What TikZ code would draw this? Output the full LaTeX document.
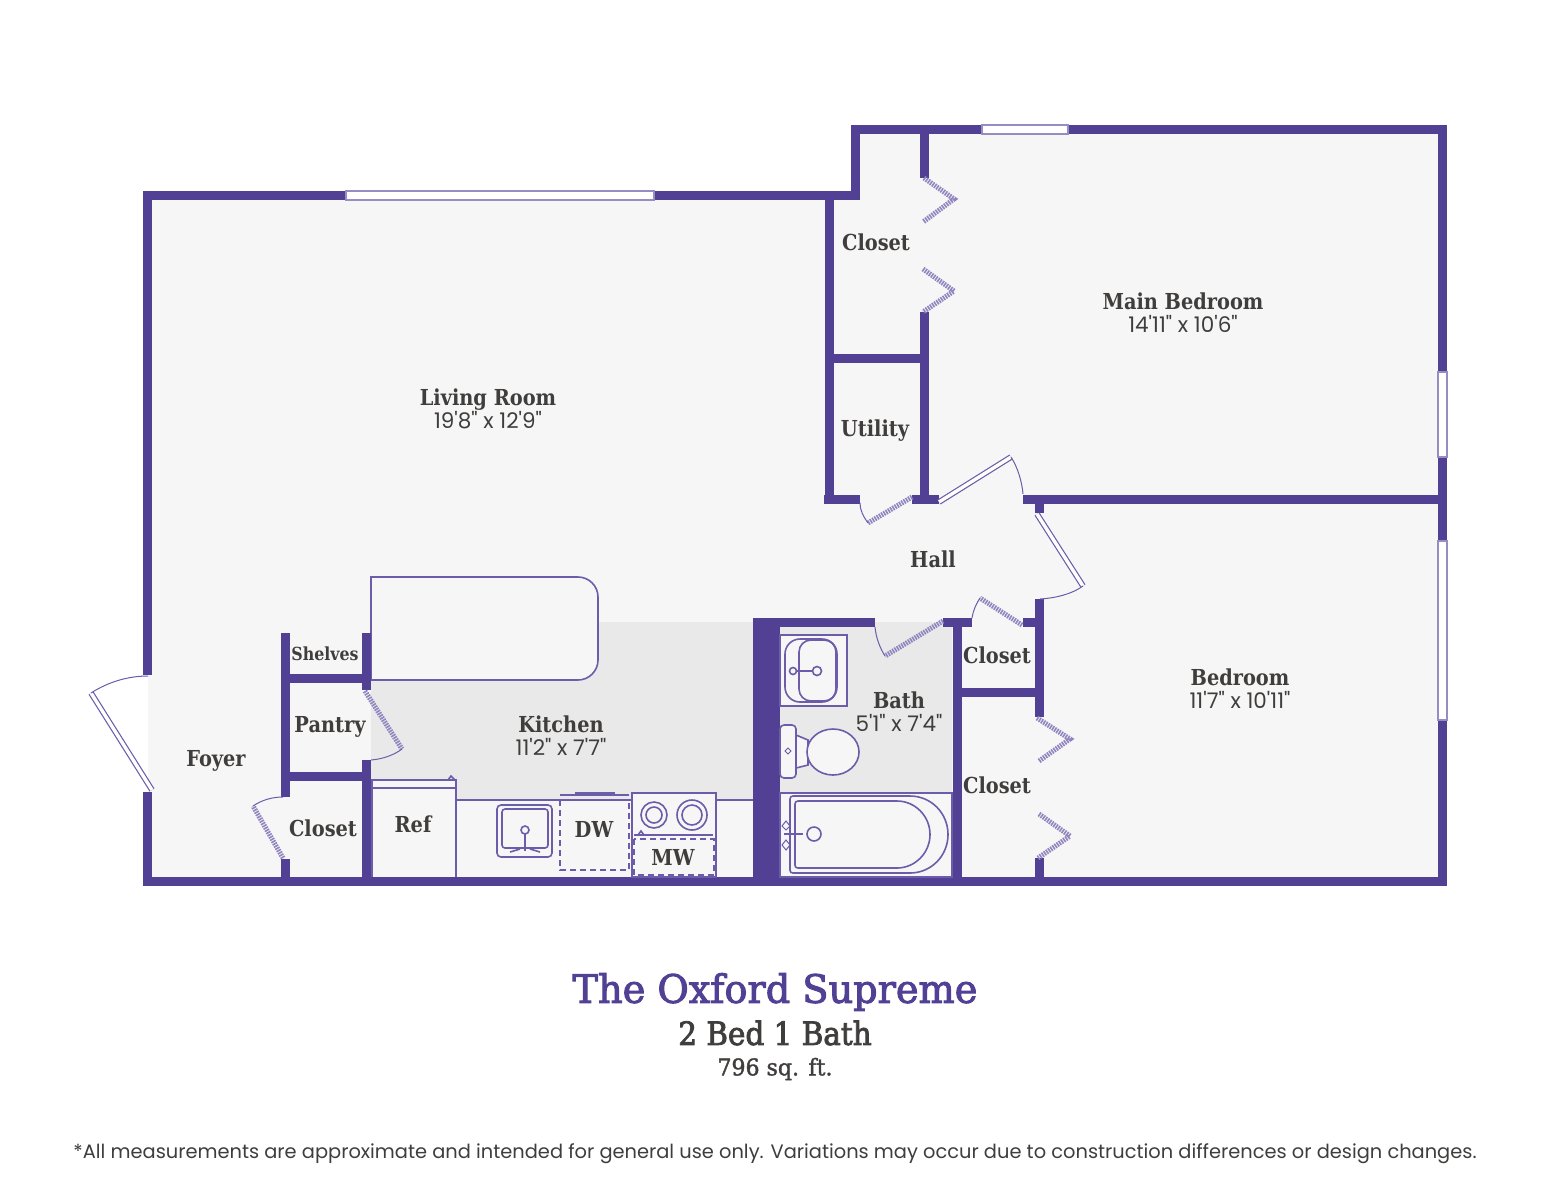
\documentclass[tikz,border=0pt]{standalone}
\usepackage{fontspec}
\usetikzlibrary{positioning}
\setmainfont{DejaVu Serif}
\newfontfamily\slabfont[FakeStretch=0.88]{DejaVu Serif}
\newfontfamily\titlefont[FakeStretch=0.98,FakeBold=2.5]{DejaVu Serif}
\newfontfamily\subfont[FakeStretch=0.92,FakeBold=2.5]{DejaVu Serif}
\newfontfamily\areafont[FakeStretch=0.96,FakeBold=1.5]{DejaVu Serif}
\newfontfamily\plainfont{Poppins}
\definecolor{myplum}{RGB}{82,64,148}
\definecolor{mythin}{RGB}{108,92,170}
\definecolor{myfloor}{RGB}{246,246,246}
\definecolor{mygrey}{RGB}{233,233,233}
\definecolor{myink}{RGB}{64,62,60}

\begin{document}
\begin{tikzpicture}[x=1pt,y=-1pt,
	wall/.style={draw=myplum,line width=9pt},
	thinline/.style={draw=mythin,line width=1.6pt},
	fixture/.style={draw=mythin,line width=1.6pt,fill=myfloor},
	swing/.style={draw=mythin,line width=1pt},
	paneldoor/.style={draw=mythin,double=white,double distance=3.4pt,line width=1.2pt},
	hatchdoor/.style={draw=mythin!75,line width=5pt,dash pattern=on 1.6pt off 1pt},
	windowpane/.style={draw=mythin!70,line width=1.2pt,fill=white},
	dashbox/.style={draw=mythin,line width=1.8pt,dash pattern=on 6pt off 4pt},
	roomname/.style={font=\slabfont\bfseries\fontsize{22}{24}\selectfont,text=myink,inner sep=0pt,text height=16.2pt,text depth=0pt},
	roomsize/.style={font=\plainfont\fontsize{21.5}{24}\selectfont,text=myink,inner sep=0pt,text height=15.6pt,text depth=0pt},
	]
	\useasboundingbox (0,0) rectangle (1552,1200);
	\fill[white] (0,0) rectangle (1552,1200);

	% the floor
	\fill[myfloor] (148,195) -- (855,195) -- (855,130) -- (1442,130) -- (1442,881) -- (148,881) -- cycle;
	\fill[mygrey] (371,622) rectangle (753,800);
	\fill[mygrey] (780,622) rectangle (952,793);

	% the kitchen island
	\draw[fixture] (371,680) -- (371,577) -- (578,577) .. controls (589,577) and (598,586) .. (598,597) -- (598,660) .. controls (598,671) and (589,680) .. (578,680) -- cycle;

	% the outer walls
	\draw[wall] (147.5,675) -- (147.5,195.5) -- (855.5,195.5) -- (855.5,129.5) -- (1442.5,129.5) -- (1442.5,881.5) -- (147.5,881.5) -- (147.5,792);

	% the inner walls
	\foreach \xa/\ya/\xb/\yb in {
		829/195/829/499, 824/499/860/499,
		924/129/924/178, 924/312/924/499, 829/358/924/358, 912/499/939/499,
		1023/499/1442/499, 1039/504/1039/513,
		1039/599/1039/717, 1039/858/1039/881, 1023/622/1039/622, 957/692/1039/692,
		753/622/875/622, 943/622/972/622, 957/622/957/881,
		285/633/285/797, 285/859/285/881, 285/678/366/678, 285/776/366/776,
		366/633/366/690, 366/760/366/881}
	\draw[wall] (\xa,\ya) -- (\xb,\yb);
	\draw[wall,line width=27pt] (766.5,618) -- (766.5,881);

	% the windows
	\draw[windowpane] (346,191) rectangle (654,200);
	\draw[windowpane] (982,125) rectangle (1068,134);
	\draw[windowpane] (1438,372) rectangle (1447,457);
	\draw[windowpane] (1438,541) rectangle (1447,720);

	% the doors
	\draw[paneldoor] (152,790) -- (91,693);
	\draw[swing] (91,693) .. controls (108,682) and (128,676) .. (148,676);
	\draw[paneldoor] (939,502) -- (1011,457);
	\draw[swing] (1011,457) .. controls (1018,468) and (1022,482) .. (1023,494);
	\draw[paneldoor] (1037,514) -- (1083,586);
	\draw[swing] (1083,586) .. controls (1072,594) and (1056,598) .. (1040,599);
	\draw[hatchdoor] (365,691) -- (402,749);
	\draw[swing] (402,749) .. controls (394,755) and (383,759) .. (371,760);
	\draw[hatchdoor] (283,858) -- (253,806);
	\draw[swing] (253,806) .. controls (262,800) and (272,797) .. (283,797);
	\draw[hatchdoor] (912,497) -- (868,523);
	\draw[swing] (868,523) .. controls (863,516) and (860,510) .. (860,503);
	\draw[hatchdoor] (1022,625) -- (980,598);
	\draw[swing] (980,598) .. controls (976,604) and (973,611) .. (972,618);
	\draw[hatchdoor] (943,621) -- (885,656);
	\draw[swing] (885,656) .. controls (880,648) and (876,638) .. (875,627);

	% the closet doors
	\draw[hatchdoor] (924,178) -- (954,199) -- (923,222);
	\draw[hatchdoor] (923,269) -- (954,291) -- (923,312);
	\draw[hatchdoor] (1037,718) -- (1070,739) -- (1039,761);
	\draw[hatchdoor] (1039,814) -- (1070,836) -- (1038,858);

	% the kitchen counter and appliances
	\draw[thinline] (457,800) -- (753,800);
	\draw[fixture] (372,877) -- (372,780) -- (456,780) -- (456,877);
	\draw[thinline] (372,788) -- (456,788);
	\draw[thinline] (448,780) -- (451,776) -- (455,780);
	\draw[thinline,rounded corners=4pt] (497,805) rectangle (552,857);
	\draw[thinline,rounded corners=3pt] (502,809) rectangle (548,848);
	\draw[thinline] (525,830) circle (4);
	\draw[thinline] (525,834) -- (525,851);
	\draw[thinline] (510,852) -- (520,849) (530,849) -- (540,852);
	\draw[thinline] (560,795) -- (629,795);
	\draw[thinline] (575,793) -- (615,793);
	\draw[dashbox] (560,800) rectangle (629,870);
	\draw[fixture] (632,793) rectangle (716,877);
	\foreach \cx/\ra/\rb in {654/13/8, 692/15/10} {
		\draw[thinline] (\cx,815) circle (\ra);
		\draw[thinline] (\cx,815) circle (\rb);
	}
	\draw[thinline] (634,835) -- (713,835);
	\draw[thinline] (638,835) -- (641,831) -- (644,835);
	\draw[dashbox] (634,839) rectangle (714,875);

	% the bath fixtures
	\draw[fixture] (780,635) rectangle (847,706);
	\draw[thinline,rounded corners=15pt] (785,639) rectangle (837,702);
	\draw[thinline,rounded corners=12pt] (799,640) -- (799,701) -- (836,701) -- (836,640) -- cycle;
	\draw[thinline] (817,671) circle (4.5);
	\draw[thinline] (797,671) -- (812,671);
	\draw[thinline] (793,671) circle (3.5);
	\draw[fixture] (796,735) -- (808,740) -- (808,765) -- (796,768) -- cycle;
	\draw[fixture] (833,752) ellipse (26 and 23);
	\draw[fixture,rounded corners=4pt] (780,725) rectangle (796,778);
	\draw[thinline,line width=1pt] (788,748) -- (791,751) -- (788,754) -- (785,751) -- cycle;
	\draw[fixture] (780,793) rectangle (952,877);
	\draw[thinline] (790,799) .. controls (790,797) and (791,796) .. (793,796) -- (910,796) .. controls (931,796) and (948,813) .. (948,834.5) .. controls (948,856) and (931,873) .. (910,873) -- (793,873) .. controls (791,873) and (790,872) .. (790,870) -- cycle;
	\draw[thinline] (795,804) .. controls (795,802) and (796,801) .. (798,801) -- (897,801) .. controls (915,801) and (930,816) .. (930,834.5) .. controls (930,853) and (915,868) .. (897,868) -- (798,868) .. controls (796,868) and (795,867) .. (795,865) -- cycle;
	\draw[thinline] (814,834) circle (7);
	\draw[thinline] (784,834) -- (803,834);
	\draw[thinline,line width=1pt] (786,821) -- (790,826) -- (786,830) -- (782,826) -- cycle;
	\draw[thinline,line width=1pt] (786,840) -- (790,845) -- (786,850) -- (782,845) -- cycle;

	% the room labels
	\node[roomname] (livingname) at (488,397) {Living Room};
	\node[roomsize] (livingsize) at (488,421) {19'8" x 12'9"};
	\node[roomname] (mainname) at (1183,301) {Main Bedroom};
	\node[roomsize] (mainsize) at (1183,325) {14'11" x 10'6"};
	\node[roomname] (bedname) at (1240,677) {Bedroom};
	\node[roomsize] (bedsize) at (1240,701) {11'7" x 10'11"};
	\node[roomname] (kitchenname) at (561,724) {Kitchen};
	\node[roomsize] (kitchensize) at (561,748) {11'2" x 7'7"};
	\node[roomname] (bathname) at (899,700) {Bath};
	\node[roomsize] (bathsize) at (899,724) {5'1" x 7'4"};
	\node[roomname] (closeta) at (876,242) {Closet};
	\node[roomname] (utility) at (875,428) {Utility};
	\node[roomname] (hall) at (933,559) {Hall};
	\node[roomname] (closetb) at (997,655) {Closet};
	\node[roomname] (closetc) at (997,785) {Closet};
	\node[roomname] (closetd) at (323,828) {Closet};
	\node[roomname] (pantry) at (330,724) {Pantry};
	\node[roomname,font=\slabfont\bfseries\fontsize{18}{20}\selectfont,text height=13.3pt] (shelves) at (325,654) {Shelves};
	\node[roomname] (foyer) at (216,758) {Foyer};
	\node[roomname] (ref) at (413,824) {Ref};
	\node[roomname] (dw) at (594,829) {DW};
	\node[roomname] (mw) at (673,857) {MW};

	% the title block
	\node[font=\titlefont\fontsize{39}{44}\selectfont,text=myplum,inner sep=0pt] (title) at (775,992) {The Oxford Supreme};
	\node[font=\subfont\fontsize{32}{36}\selectfont,text=myink,inner sep=0pt] (subtitle) at (775,1033) {2 Bed 1 Bath};
	\node[font=\areafont\fontsize{23}{26}\selectfont,text=myink,inner sep=0pt] (area) at (775,1069) {796 sq. ft.};
	\node[font=\plainfont\fontsize{19.4}{22}\selectfont,text=myink,inner sep=0pt] (note) at (775,1154) {*All measurements are approximate and intended for general use only. Variations may occur due to construction differences or design changes.};
\end{tikzpicture}
\end{document}
